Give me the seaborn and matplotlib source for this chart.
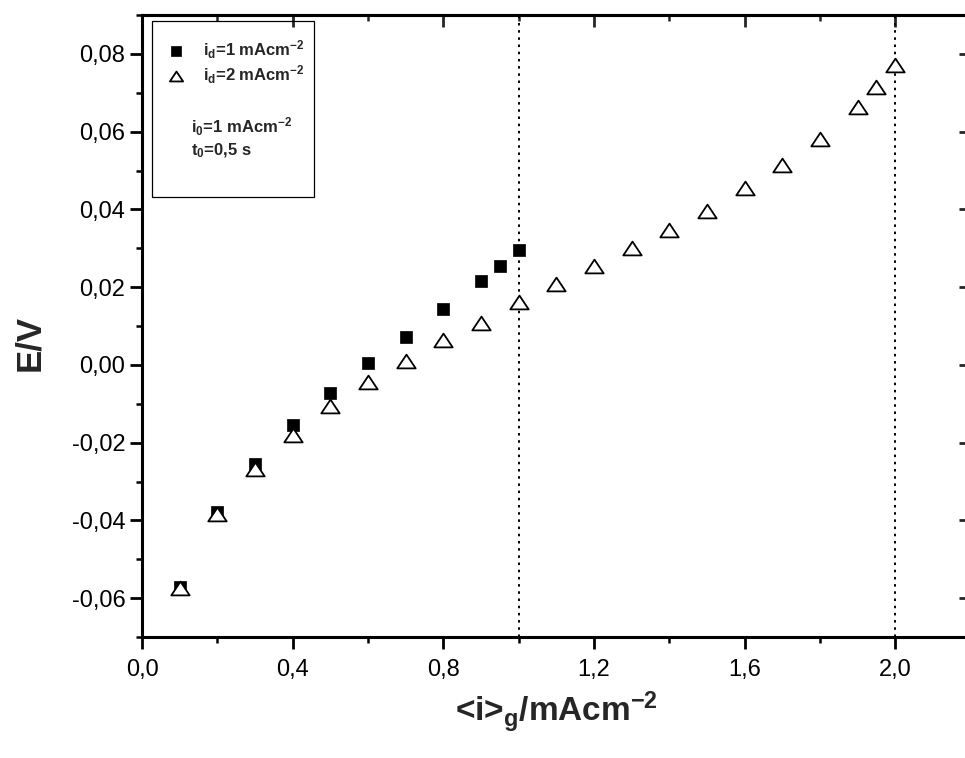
import numpy as np
import pandas as pd
import seaborn as sns
import matplotlib
matplotlib.use('Agg')
from matplotlib import pyplot as plt
from matplotlib.path import Path
from matplotlib.patches import Rectangle
from matplotlib.ticker import MultipleLocator, FuncFormatter


# id = 1 mA/cm2 (filled squares)
x_id1 = [0.1, 0.2, 0.3, 0.4, 0.5, 0.6, 0.7, 0.8, 0.9, 0.95, 1.0]
E_id1 = [-0.0572, -0.0379, -0.0254, -0.0155, -0.0073, 0.0004, 0.0073, 0.0144, 0.0217, 0.0255, 0.0295]

# id = 2 mA/cm2 (open triangles)
x_id2 = [0.1, 0.2, 0.3, 0.4, 0.5, 0.6, 0.7, 0.8, 0.9, 1.0,
         1.1, 1.2, 1.3, 1.4, 1.5, 1.6, 1.7, 1.8, 1.9, 1.95, 2.0]
E_id2 = [-0.0574, -0.0383, -0.0267, -0.0181, -0.0106, -0.0044, 0.0010, 0.0063, 0.0109, 0.0161,
         0.0208, 0.0254, 0.0301, 0.0348, 0.0397, 0.0456, 0.0514, 0.0582, 0.0664, 0.0714, 0.0772]

# vertical marker lines at the two id values
vlines = [1.0, 2.0]

df1 = pd.DataFrame({'i': x_id1, 'E': E_id1})
df2 = pd.DataFrame({'i': x_id2, 'E': E_id2})

sns.set_style('ticks')
plt.rcParams['font.family'] = ['Liberation Sans', 'DejaVu Sans']
plt.rcParams['mathtext.fontset'] = 'custom'
plt.rcParams['mathtext.rm'] = 'Liberation Sans'
plt.rcParams['mathtext.bf'] = 'Liberation Sans:bold'
plt.rcParams['mathtext.it'] = 'Liberation Sans:italic'

fig = plt.figure(figsize=(9.65, 7.58), dpi=100)
ax = fig.add_axes([0.1472, 0.1596, 0.8585, 0.8206])

# wide, flat open triangle
tri = Path([(0, 0.75), (-1, -0.75), (1, -0.75), (0, 0.75)], closed=True)

for xv in vlines:
    ax.axvline(xv, color='black', lw=1.4, linestyle=(0, (1.3, 2.4)), zorder=1)

sns.scatterplot(x='i', y='E', data=df1, marker='s', s=85, color='black',
                edgecolor='black', linewidth=0.5, label='id1', ax=ax, zorder=3)
sns.scatterplot(x='i', y='E', data=df2, marker=tri, s=175, facecolor='white',
                edgecolor='black', linewidth=1.3, label='id2', ax=ax, zorder=4)

ax.set_xlim(0, 2.2)
ax.set_ylim(-0.07, 0.09)

ax.xaxis.set_major_locator(MultipleLocator(0.4))
ax.xaxis.set_minor_locator(MultipleLocator(0.2))
ax.yaxis.set_major_locator(MultipleLocator(0.02))
ax.yaxis.set_minor_locator(MultipleLocator(0.01))
ax.xaxis.set_major_formatter(FuncFormatter(lambda v, p: f'{v:.1f}'.replace('.', ',')))
ax.yaxis.set_major_formatter(FuncFormatter(lambda v, p: f'{round(v, 4) + 0:.2f}'.replace('.', ',')))

for s in ax.spines.values():
    s.set_linewidth(2.2)
    s.set_color('black')

ax.tick_params(which='both', direction='out', top=False, right=False, colors='black')
ax.tick_params(which='major', length=8.5, width=2.0)
ax.tick_params(which='minor', length=4.5, width=1.8)
ax.tick_params(axis='x', which='major', labelsize=17, pad=7)
ax.tick_params(axis='y', which='major', labelsize=17, pad=3.5)

# top and right ticks point inwards, no labels
top = ax.secondary_xaxis('top')
top.xaxis.set_major_locator(MultipleLocator(0.4))
top.xaxis.set_minor_locator(MultipleLocator(0.2))
top.tick_params(which='both', direction='in', labeltop=False)
top.tick_params(which='major', length=8.5, width=2.0)
top.tick_params(which='minor', length=4.5, width=1.8)
top.spines['top'].set_linewidth(2.2)

right = ax.secondary_yaxis('right')
right.yaxis.set_major_locator(MultipleLocator(0.02))
right.yaxis.set_minor_locator(MultipleLocator(0.01))
right.tick_params(which='both', direction='in', labelright=False)
right.tick_params(which='major', length=8.5, width=2.0)
right.tick_params(which='minor', length=4.5, width=1.8)

ax.set_xlabel(r'<i>$_{\mathbf{g}}$/mAcm$^{\mathbf{-2}}$', fontsize=24, fontweight='bold')
ax.set_ylabel('E/V', fontsize=25, fontweight='bold')
ax.xaxis.set_label_coords(0.5, -0.0855)
ax.yaxis.set_label_coords(-0.116, 0.473)

leg = ax.legend(loc='upper left', bbox_to_anchor=(0.031, 0.963), frameon=False,
                prop={'weight': 'bold', 'size': 12}, markerscale=0.72,
                handlelength=1.0, handletextpad=1.1, labelspacing=0.14,
                borderpad=0, borderaxespad=0, scatterpoints=1)
labels = [r'$\mathbf{i_d}$=1 mAcm$^{\mathbf{-2}}$', r'$\mathbf{i_d}$=2 mAcm$^{\mathbf{-2}}$']
for t, lab in zip(leg.get_texts(), labels):
    t.set_text(lab)

ax.text(0.059, 0.8106, r'$\mathbf{i_0}$=1 mAcm$^{\mathbf{-2}}$', transform=ax.transAxes,
        fontsize=12, fontweight='bold', va='baseline', ha='left')
ax.text(0.059, 0.7737, r'$\mathbf{t_0}$=0,5 s', transform=ax.transAxes,
        fontsize=12, fontweight='bold', va='baseline', ha='left')
ax.add_patch(Rectangle((0.0121, 0.708), 0.1956, 0.282, transform=ax.transAxes,
                       fill=False, edgecolor='black', lw=0.9, zorder=5))

plt.savefig('out.png', dpi=100)
